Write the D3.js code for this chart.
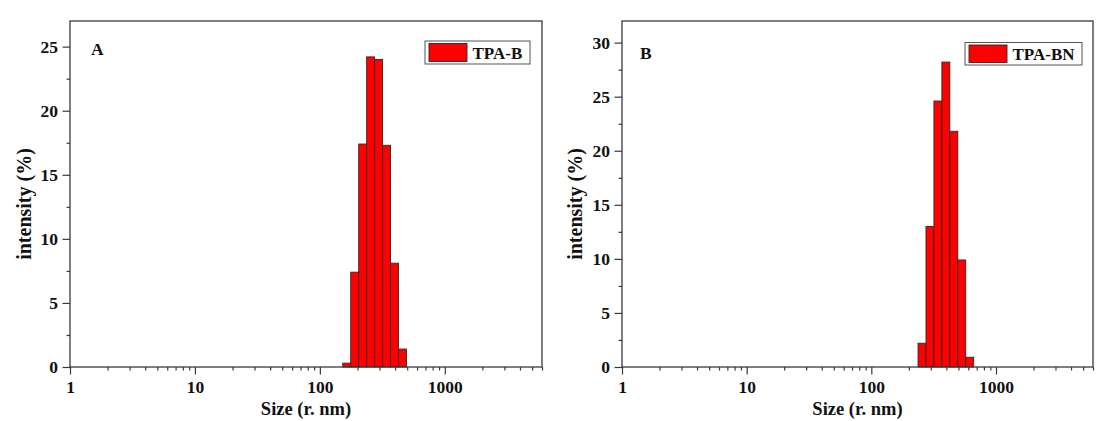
<!DOCTYPE html>
<html>
<head>
<meta charset="utf-8">
<script src="https://cdn.jsdelivr.net/npm/d3@7"></script>
<style>
  html, body { margin: 0; padding: 0; background: #fff; }
  svg { display: block; }
  text { font-family: "Liberation Serif", "Times New Roman", serif; font-weight: bold; fill: #111; }
</style>
</head>
<body>
<svg id="chart" width="1102" height="421"></svg>
<script>
// DLS size bins (nm, bin centres) and intensity (%) for each sample
const sizesA = [164.2, 190.1, 220.2, 255.0, 295.3, 342.0, 396.1, 458.7];
const intensityA = [0.3, 7.4, 17.4, 24.2, 24.0, 17.3, 8.1, 1.4];

const sizesB = [255.0, 295.3, 342.0, 396.1, 458.7, 531.2, 615.1];
const intensityB = [2.2, 13.0, 24.6, 28.2, 21.8, 9.9, 0.9];

const seriesNames = ["TPA-B", "TPA-BN"];
const panelLetters = ["A", "B"];
const yTicksA = [0, 5, 10, 15, 20, 25];
const yTicksB = [0, 5, 10, 15, 20, 25, 30];
const xTickLabels = [1, 10, 100, 1000];
const xTitle = "Size (r. nm)";
const yTitle = "intensity (%)";

// log-spaced bin ratio of the size classes
const binRatio = Math.pow(25000, 1 / 69);

const svg = d3.select("#chart");

const panels = [
  { letter: panelLetters[0], name: seriesNames[0], sizes: sizesA, vals: intensityA, yTicks: yTicksA,
    yMax: 27, left: 70, right: 542, top: 21, bottom: 367,
    legend: { x: 425, y: 41, w: 105, h: 23 }, letterPos: [91, 54.5], yTitleX: 31 },
  { letter: panelLetters[1], name: seriesNames[1], sizes: sizesB, vals: intensityB, yTicks: yTicksB,
    yMax: 32, left: 622, right: 1093, top: 21, bottom: 367,
    legend: { x: 965, y: 42.5, w: 117, h: 22.5 }, letterPos: [640, 58.5], yTitleX: 582 }
];

const frameColor = "#3a3a3a";

panels.forEach(p => {
  const g = svg.append("g");
  const x = d3.scaleLog().domain([1, 6000]).range([p.left, p.right]);
  const y = d3.scaleLinear().domain([0, p.yMax]).range([p.bottom, p.top]);

  // bars
  g.selectAll("rect.bar")
    .data(p.sizes.map((s, i) => ({ s, v: p.vals[i] })))
    .join("rect")
    .attr("class", "bar")
    .attr("x", d => x(d.s / Math.sqrt(binRatio)))
    .attr("width", d => x(d.s * Math.sqrt(binRatio)) - x(d.s / Math.sqrt(binRatio)))
    .attr("y", d => y(d.v))
    .attr("height", d => y(0) - y(d.v))
    .attr("fill", "#ff0000")
    .attr("stroke", "#2a2a2a")
    .attr("stroke-width", 0.9);

  // frame
  g.append("rect")
    .attr("x", p.left).attr("y", p.top)
    .attr("width", p.right - p.left).attr("height", p.bottom - p.top)
    .attr("fill", "none").attr("stroke", frameColor).attr("stroke-width", 1.3);

  // x axis: major ticks at decades, minor ticks 2..9
  const minor = [];
  for (let d = 1; d <= 1000; d *= 10) {
    for (let k = 2; k <= 9; k++) if (d * k <= 6000) minor.push(d * k);
  }
  g.append("g")
    .attr("transform", `translate(0,${p.bottom})`)
    .call(d3.axisBottom(x).tickValues(minor).tickSize(3.5).tickFormat(""))
    .call(a => a.select(".domain").remove())
    .call(a => a.selectAll("line").attr("stroke", frameColor).attr("stroke-width", 1.2));
  const xa = g.append("g")
    .attr("transform", `translate(0,${p.bottom})`)
    .call(d3.axisBottom(x).tickValues(xTickLabels).tickSize(7.5).tickPadding(6).tickFormat(d3.format("d")))
    .call(a => a.select(".domain").remove());
  xa.selectAll("line").attr("stroke", frameColor).attr("stroke-width", 1.2);
  xa.selectAll("text").attr("font-size", 17.5).attr("fill", "#111")
    .attr("font-family", "Liberation Serif, Times New Roman, serif").attr("font-weight", "bold");

  // y axis: major ticks every 5, minor at halves
  const yMinor = d3.range(2.5, p.yMax, 5);
  g.append("g")
    .attr("transform", `translate(${p.left},0)`)
    .call(d3.axisLeft(y).tickValues(yMinor).tickSize(3.5).tickFormat(""))
    .call(a => a.select(".domain").remove())
    .call(a => a.selectAll("line").attr("stroke", frameColor).attr("stroke-width", 1.2));
  const ya = g.append("g")
    .attr("transform", `translate(${p.left},0)`)
    .call(d3.axisLeft(y).tickValues(p.yTicks).tickSize(7.5).tickPadding(4.5))
    .call(a => a.select(".domain").remove());
  ya.selectAll("line").attr("stroke", frameColor).attr("stroke-width", 1.2);
  ya.selectAll("text").attr("font-size", 17.5).attr("fill", "#111")
    .attr("font-family", "Liberation Serif, Times New Roman, serif").attr("font-weight", "bold");

  // axis titles
  g.append("text")
    .attr("x", (p.left + p.right) / 2).attr("y", 415)
    .attr("text-anchor", "middle").attr("font-size", 18.5)
    .text(xTitle);
  g.append("text")
    .attr("transform", `translate(${p.yTitleX},${(p.top + p.bottom) / 2 + 10}) rotate(-90)`)
    .attr("text-anchor", "middle").attr("font-size", 20)
    .text(yTitle);

  // panel letter
  g.append("text")
    .attr("x", p.letterPos[0]).attr("y", p.letterPos[1])
    .attr("font-size", 17.5).text(p.letter);

  // legend
  const L = p.legend;
  g.append("rect")
    .attr("x", L.x).attr("y", L.y).attr("width", L.w).attr("height", L.h)
    .attr("fill", "#fff").attr("stroke", "#555").attr("stroke-width", 1);
  g.append("rect")
    .attr("x", L.x + 4).attr("y", L.y + 2.5).attr("width", 38).attr("height", L.h - 5)
    .attr("fill", "#ff0000").attr("stroke", "#2a2a2a").attr("stroke-width", 0.9);
  g.append("text")
    .attr("x", L.x + 47.5).attr("y", L.y + 17.5)
    .attr("font-size", 17).text(p.name);
});
</script>
</body>
</html>
